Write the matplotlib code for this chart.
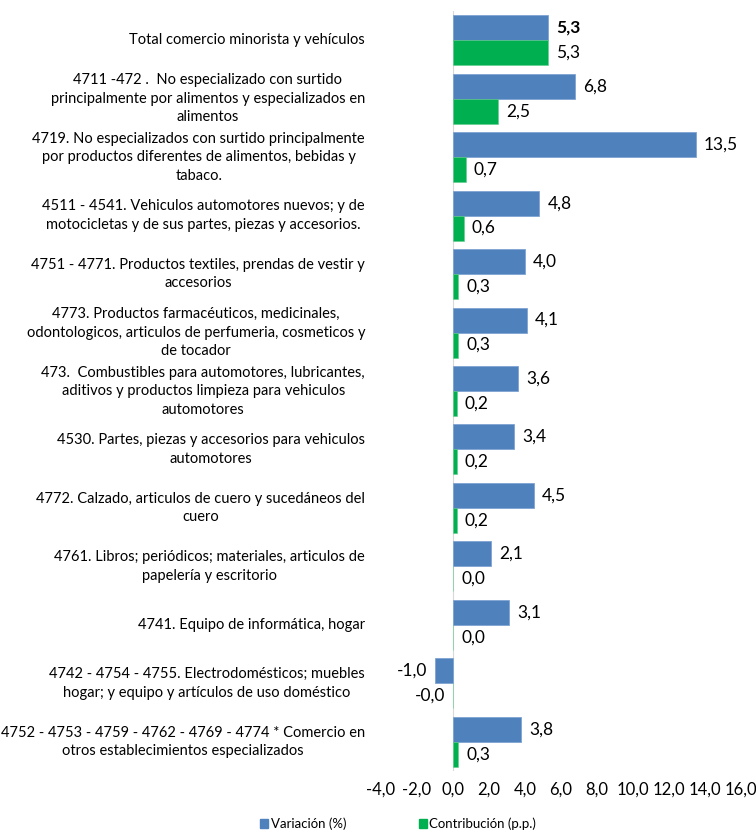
import numpy as np
import matplotlib
matplotlib.use("Agg")
import matplotlib.pyplot as plt
from matplotlib.patches import Patch

plt.rcParams["font.family"] = ["Lato", "DejaVu Sans"]

categorias = [
    "Total comercio minorista y vehículos",
    "4711 -472 .  No especializado con surtido\nprincipalmente por alimentos y especializados en\nalimentos",
    "4719. No especializados con surtido principalmente\npor productos diferentes de alimentos, bebidas y\ntabaco.",
    "4511 - 4541. Vehiculos automotores nuevos; y de\nmotocicletas y de sus partes, piezas y accesorios.",
    "4751 - 4771. Productos textiles, prendas de vestir y\naccesorios",
    "4773. Productos farmacéuticos, medicinales,\nodontologicos, articulos de perfumeria, cosmeticos y\nde tocador",
    "473.  Combustibles para automotores, lubricantes,\naditivos y productos limpieza para vehiculos\nautomotores",
    "4530. Partes, piezas y accesorios para vehiculos\nautomotores",
    "4772. Calzado, articulos de cuero y sucedáneos del\ncuero",
    "4761. Libros; periódicos; materiales, articulos de\npapelería y escritorio",
    "4741. Equipo de informática, hogar",
    "4742 - 4754 - 4755. Electrodomésticos; muebles\nhogar; y equipo y artículos de uso doméstico",
    "4752 - 4753 - 4759 - 4762 - 4769 - 4774 * Comercio en\notros establecimientos especializados",
]
variacion = [5.3, 6.8, 13.5, 4.8, 4.0, 4.1, 3.6, 3.4, 4.5, 2.1, 3.1, -1.0, 3.8]
contribucion = [5.3, 2.5, 0.7, 0.6, 0.3, 0.3, 0.2, 0.2, 0.2, 0.0, 0.0, -0.001, 0.3]
xticks = np.arange(-4, 17, 2)

AZUL = "#4F81BD"
VERDE = "#00B050"
W, H = 756, 831


def fmt(v):
    return f"{v:.1f}".replace(".", ",")


fig = plt.figure(figsize=(W / 100, H / 100), dpi=100)
ax = fig.add_axes([381 / W, 1 - 771 / H, 360 / W, 760 / H])

y = np.arange(len(categorias))
h = 0.427
b1 = ax.barh(y - h / 2, variacion, height=h, color=AZUL, edgecolor="#7FA3D3", linewidth=0.6)
b2 = ax.barh(y + h / 2, contribucion, height=h, color=VERDE, edgecolor="#5FCB8A", linewidth=0.4)

for i, (bars, vals) in enumerate([(b1, variacion), (b2, contribucion)]):
    for j, (bar, v) in enumerate(zip(bars, vals)):
        yc = bar.get_y() + bar.get_height() / 2
        if v < 0:
            xt, ha = v - 0.45, "right"
        else:
            xt, ha = v + 0.45, "left"
        txt = fmt(v)
        if v < 0 and abs(v) < 0.05:
            txt = "-0,0"
        weight = "bold" if (i == 0 and j == 0) else "normal"
        ax.text(xt, yc, txt, ha=ha, va="center", fontsize=12.5, fontweight=weight, color="black")

ax.set_xlim(-4, 16)
ax.set_ylim(len(categorias) - 0.5, -0.5)
ax.set_xticks(xticks)
ax.set_xticklabels([fmt(t) for t in xticks], fontsize=12)
ax.set_yticks([])
ax.tick_params(axis="both", length=0)
ax.tick_params(axis="x", pad=8)
for s in ["top", "right", "bottom", "left"]:
    ax.spines[s].set_visible(False)
ax.axvline(0, color="#D9D9D9", linewidth=0.8, zorder=0)

# category labels: each line drawn separately, centred on the widest line,
# block right-aligned just left of the plot area
renderer = fig.canvas.get_renderer()
right_px = 381 - 16
line_px = 18.5
for yi, lbl in zip(y, categorias):
    lines = lbl.split("\n")
    textos = [fig.text(0, 0, ln, fontsize=10.5, ha="center", va="center") for ln in lines]
    anchos = [t.get_window_extent(renderer).width for t in textos]
    xc = right_px - max(anchos) / 2
    yc_px = H - ax.transData.transform((0, yi))[1]
    n = len(lines)
    for k, t in enumerate(textos):
        ypx = yc_px + (k - (n - 1) / 2) * line_px
        t.set_position((xc / W, 1 - ypx / H))

handles = [Patch(color=AZUL, label="Variación (%)"), Patch(color=VERDE, label="Contribución (p.p.)")]
fig.legend(handles=handles, loc="center", bbox_to_anchor=(398 / W, 1 - 824 / H), ncol=2,
           frameon=False, fontsize=9.5, handlelength=0.6, handleheight=0.6, handletextpad=0.2,
           columnspacing=5.5)

fig.savefig("out.png", dpi=100)
